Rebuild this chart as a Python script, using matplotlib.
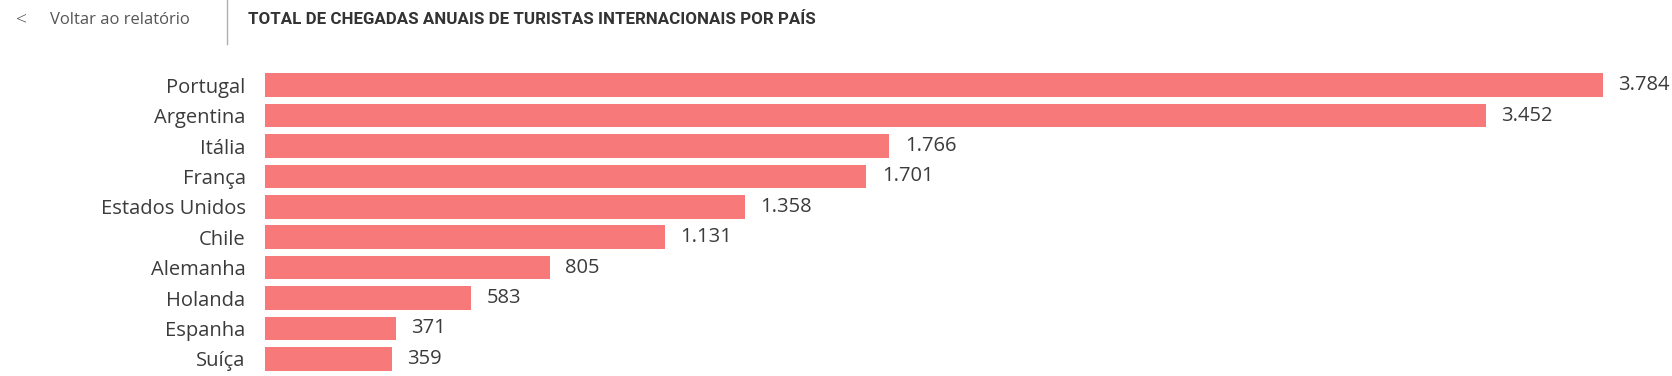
import matplotlib.pyplot as plt
import matplotlib.lines as mlines

# data
countries = ['Portugal', 'Argentina', 'Itália', 'França', 'Estados Unidos',
             'Chile', 'Alemanha', 'Holanda', 'Espanha', 'Suíça']
arrivals = [3784, 3452, 1766, 1701, 1358, 1131, 805, 583, 371, 359]

BAR_COLOR = '#F87979'
TEXT_COLOR = '#3b3b3b'
W, H = 1672, 376

plt.rcParams['font.family'] = ['Open Sans', 'DejaVu Sans']

fig = plt.figure(figsize=(W / 100, H / 100), dpi=100)

# axes placed in pixels: bars start at x=265, rows span y=70..374
left, right = 265, 1672
top, bottom = 70, 374
ax = fig.add_axes([left / W, 1 - bottom / H, (right - left) / W, (bottom - top) / H])

px_per_unit = (1603 - 265) / 3784.0
xmax = (right - left) / px_per_unit

ypos = list(range(len(countries)))
bars = ax.barh(ypos, arrivals, height=0.77, color=BAR_COLOR)
ax.set_ylim(len(countries) - 0.5, -0.5)
ax.set_xlim(0, xmax)

ax.set_yticks(ypos)
ax.set_yticklabels(countries, fontsize=14.5, color=TEXT_COLOR)
ax.tick_params(axis='y', length=0, pad=14)
ax.set_xticks([])
for s in ax.spines.values():
    s.set_visible(False)

def fmt(v):
    return '{:,}'.format(v).replace(',', '.')

for y, v in zip(ypos, arrivals):
    ax.annotate(fmt(v), xy=(v, y), xytext=(11, 0), textcoords='offset points',
                ha='left', va='center', fontsize=14.5, color=TEXT_COLOR)

# header bar
fig.text(16 / W, 1 - 20 / H, '<', fontsize=14, color='#555555', va='center', ha='left',
         fontweight='light')
fig.text(50 / W, 1 - 20 / H, 'Voltar ao relatório', fontsize=12, color='#555555',
         va='center', ha='left')
fig.add_artist(mlines.Line2D([227 / W, 227 / W], [1, 1 - 44 / H],
                             color='#b0b0b0', linewidth=1))
fig.text(248 / W, 1 - 20 / H, 'TOTAL DE CHEGADAS ANUAIS DE TURISTAS INTERNACIONAIS POR PAÍS',
         fontsize=12.2, fontweight='bold', color='#333333', va='center', ha='left',
         family=['Roboto', 'DejaVu Sans'])

fig.savefig('out.png', dpi=100)
